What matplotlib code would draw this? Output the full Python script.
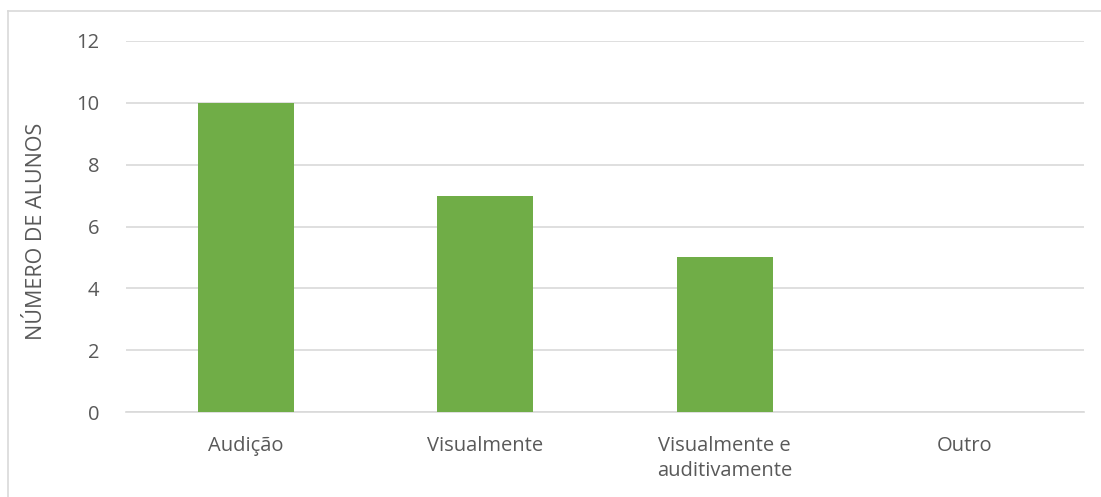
import matplotlib
matplotlib.use("Agg")
import matplotlib.pyplot as plt
from matplotlib.lines import Line2D

categories = ["Audição", "Visualmente", "Visualmente e\nauditivamente", "Outro"]
values = [10, 7, 5, 0]
y_ticks = [0, 2, 4, 6, 8, 10, 12]

plt.rcParams['font.family'] = ['Open Sans', 'DejaVu Sans']
text_color = '#595959'
grid_color = '#d9d9d9'
bar_color = '#70ad47'

fig = plt.figure(figsize=(11.01, 4.97), dpi=100)
ax = fig.add_axes([126 / 1101, 1 - 412 / 497, (1084 - 126) / 1101, (412 - 41) / 497])

x = list(range(len(categories)))
ax.bar(x, values, width=0.4, color=bar_color, zorder=3)

ax.set_xlim(-0.5, len(categories) - 0.5)
ax.set_ylim(0, 12)
ax.set_yticks(y_ticks)
ax.set_yticklabels([str(t) for t in y_ticks])
ax.set_xticks(x)
ax.set_xticklabels(categories, linespacing=1.35, va='top')

ax.grid(axis='y', color=grid_color, linewidth=1.2, zorder=0)
for side in ['top', 'right', 'left']:
    ax.spines[side].set_visible(False)
ax.spines['bottom'].set_color(grid_color)
ax.spines['bottom'].set_linewidth(1.2)
ax.tick_params(axis='both', length=0, labelsize=14.5, colors=text_color)
ax.tick_params(axis='y', pad=19)
ax.tick_params(axis='x', pad=17)

ax.set_ylabel("NÚMERO DE ALUNOS", fontsize=15.5, color=text_color)
ax.yaxis.set_label_coords((47 - 126) / 958, 0.488)

# chart border (only top/left visible in the crop)
bx = 8 / 1101
by = 1 - 11 / 497
fig.add_artist(Line2D([bx, 1], [by, by], transform=fig.transFigure, color='#d9d9d9', linewidth=1.2))
fig.add_artist(Line2D([bx, bx], [0, by], transform=fig.transFigure, color='#d9d9d9', linewidth=1.2))

fig.savefig("out.png", dpi=100)
